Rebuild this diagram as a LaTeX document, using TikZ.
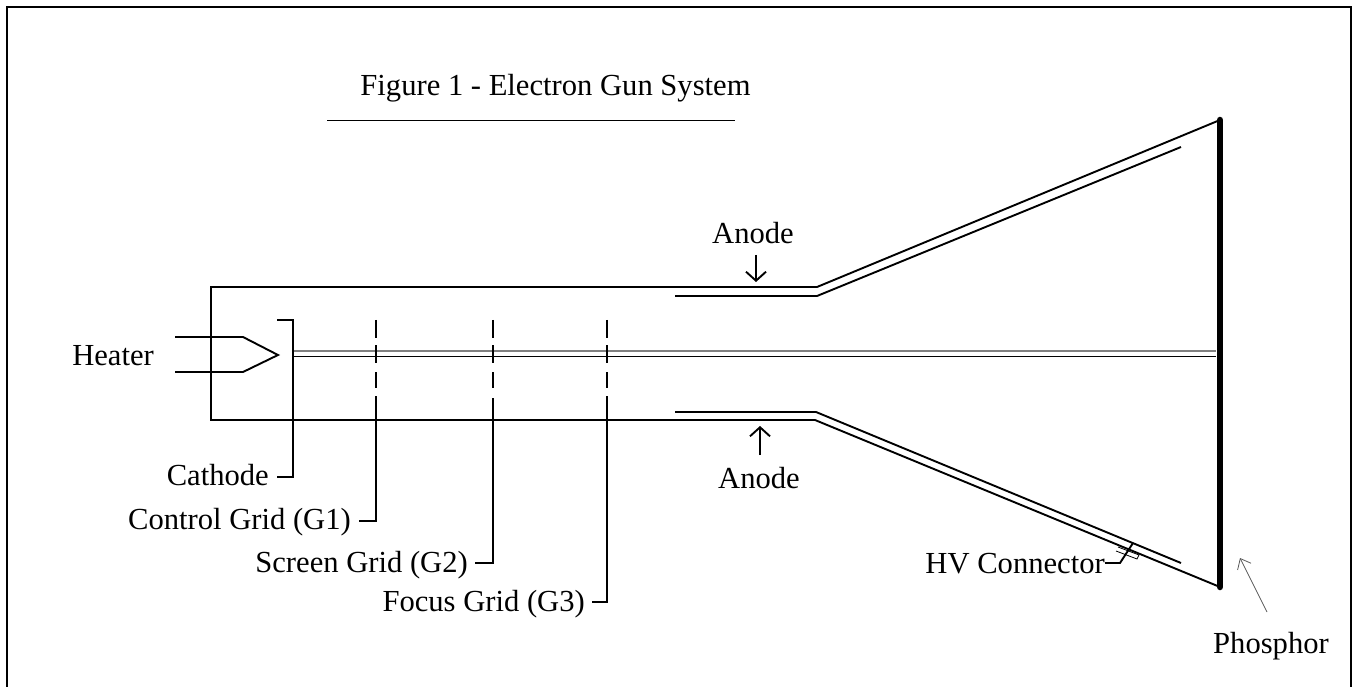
\documentclass[tikz,border=0pt]{standalone}
\usepackage{fontspec}
\setmainfont{Liberation Serif}
\usetikzlibrary{arrows.meta}
\begin{document}
\begin{tikzpicture}[x=1pt,y=-1pt,
line/.style={
draw,
line width=1.9pt,
},
thin line/.style={
draw,
line width=0.8pt,
},
label/.style={
font={\fontsize{30.6pt}{33}\selectfont},
inner sep=0pt,
anchor=base,
},
eside/.style={
label,
anchor=base east,
},
arrow/.style={
line,
-{Straight Barb[length=9pt,width=20pt]},
},
]
\useasboundingbox(0,0)rectangle(1353,687);
\draw[line](7,687)--(7,7)--(1351,7)--(1351,687);
\node[label]at(555.5,96)(title){Figure 1 - Electron Gun System};
\coordinate(rulea)at(327,120);
\coordinate(ruleb)at(735,120);
\draw[thin line](rulea)--(ruleb);

% tube
\coordinate(tubetop)at(817,287);
\coordinate(tubebot)at(815,420);
\coordinate(screentop)at(1220,120);
\coordinate(screenbot)at(1220,587);
\draw[line](screentop)--(tubetop)--(211,287)--(211,420)--(tubebot)--(screenbot);
\draw[line width=6.5pt,line cap=round](screentop)--(screenbot);
\draw[line](675,296)--(817,296)--(1181,147);
\draw[line](675,412)--(816,412)--(1181,563);

% beam
\coordinate(beama)at(293,351);
\coordinate(beamb)at(1216,351);
\coordinate(beamc)at(293,356);
\coordinate(beamd)at(1216,356);
\draw[thin line,gray,line width=1.5pt](beama)--(beamb);
\draw[thin line](beamc)--(beamd);

% heater
\node[eside]at(154,365)(heater){Heater};
\draw[line](175,337)--(243,337)--(278,355)--(243,372)--(175,372);

% cathode and grids
\node[eside]at(269,485)(cathode){Cathode};
\node[eside]at(351,529)(gridone){Control Grid (G1)};
\node[eside]at(468,572)(gridtwo){Screen Grid (G2)};
\node[eside]at(585,611)(gridthree){Focus Grid (G3)};
\draw[line](277,320)--(293,320)--(293,477)--(277,477);
\draw[line](376,396)--(376,521)--(359,521);
\draw[line](493,398)--(493,563)--(475,563);
\draw[line](607,396)--(607,602)--(592,602);
\foreach \x in {376,493,607}{
\draw[line](\x,320)--(\x,338);
\draw[line](\x,345)--(\x,363);
\draw[line](\x,372)--(\x,388);
}

% labels on the right
\node[label]at(753,244)(anodetop){Anode};
\node[label]at(759,488)(anodebot){Anode};
\coordinate(arrowtop)at(756,255);
\coordinate(arrowbot)at(760,455);
\draw[arrow](arrowtop)--(756,282);
\draw[arrow](arrowbot)--(760,426);

\node[eside]at(1105,573)(connector){HV Connector};
\draw[line](1105,563)--(1120,563)--(1133,543);
\draw[thin line](1118,547)--(1139,555)--(1137,559)--(1116,551);
\node[label]at(1271,653)(phosphor){Phosphor};
\coordinate(phosphortail)at(1267,612);
\coordinate(phosphortip)at(1240,558);
\draw[thin line,gray!70!black,-{Straight Barb[length=9pt,width=15pt]}](phosphortail)--(phosphortip);
\end{tikzpicture}
\end{document}
